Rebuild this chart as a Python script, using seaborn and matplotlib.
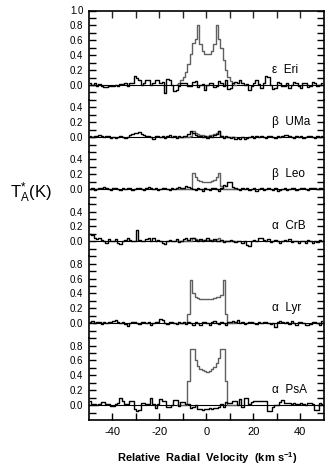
import numpy as np
import matplotlib
matplotlib.use("Agg")
import matplotlib.pyplot as plt
import seaborn as sns

# ---------------- data ----------------
stars = ["ε  Eri", "β  UMa", "β  Leo", "α  CrB", "α  Lyr", "α  PsA"]
y_tops = [1.0, 0.5, 0.5, 0.5, 0.9, 0.9]
y_bottom = -0.2
xtick_values = [-40, -30, -20, -10, 0, 10, 20, 30, 40]
xtick_labels = ["-40", "", "-20", "", "0", "", "20", "", "40"]

noise_v = np.arange(-49.5, 50, 1.0)     # channel centres, km/s
profile_v = np.arange(-12.5, 13, 1.0)   # channel centres of model profiles

eps_eri_noise = [0.03, 0.00, 0.02, -0.01, 0.01, -0.02, -0.03, -0.03, -0.02, -0.02,
                 -0.01, 0.00, -0.02, 0.01, 0.01, 0.02, -0.01, 0.03, 0.02, 0.12,
                 0.10, 0.06, 0.00, 0.03, 0.07, 0.07, 0.00, 0.02, 0.07, 0.07,
                 0.02, 0.04, -0.11, 0.08, 0.07, 0.00, -0.08, -0.07, -0.02, 0.02,
                 0.03, 0.02, -0.01, -0.02, 0.04, 0.05, -0.03, 0.00, 0.01, -0.07,
                 0.00, 0.02, 0.03, -0.03, -0.02, 0.05, 0.02, -0.02, 0.06, -0.05,
                 -0.04, 0.02, 0.04, 0.03, 0.07, 0.03, 0.00, 0.01, -0.07, -0.02,
                 0.03, 0.06, 0.01, -0.04, 0.02, 0.12, 0.11, 0.00, -0.06, -0.04,
                 0.04, 0.02, -0.02, -0.02, 0.03, -0.04, 0.00, 0.04, 0.02, -0.01,
                 -0.04, 0.02, 0.03, -0.03, -0.01, 0.04, 0.02, -0.02, 0.00, 0.03]
beta_uma_noise = [0.01, 0.00, 0.02, 0.01, 0.03, 0.02, 0.00, 0.02, 0.01, -0.01,
                  0.00, -0.01, 0.00, 0.01, 0.00, -0.01, 0.00, 0.03, 0.04, 0.06,
                  0.05, 0.07, 0.04, 0.03, 0.01, 0.02, 0.00, -0.02, 0.01, 0.02,
                  0.00, 0.02, -0.01, 0.01, 0.03, 0.00, 0.01, -0.01, 0.02, 0.00,
                  0.01, 0.02, 0.04, 0.08, 0.06, 0.03, 0.01, 0.02, 0.00, 0.01,
                  -0.01, 0.02, 0.00, 0.03, 0.04, 0.08, 0.02, -0.01, 0.01, 0.00,
                  -0.01, 0.00, -0.02, -0.01, -0.02, 0.00, -0.03, -0.01, 0.00, 0.01,
                  -0.01, 0.01, 0.00, 0.02, 0.00, -0.01, 0.01, 0.02, 0.00, -0.01,
                  0.01, 0.00, 0.02, 0.03, 0.03, 0.01, 0.00, -0.01, 0.01, 0.00,
                  0.01, -0.01, 0.00, 0.01, 0.02, 0.00, -0.01, 0.01, 0.00, 0.01]
beta_leo_noise = [0.00, 0.01, -0.01, 0.00, 0.02, 0.01, 0.03, 0.02, 0.00, -0.01,
                  0.01, 0.02, 0.00, -0.01, 0.01, 0.00, 0.02, 0.01, -0.01, 0.00,
                  0.01, 0.02, 0.00, -0.01, 0.01, 0.03, 0.02, 0.00, 0.01, -0.01,
                  0.00, 0.01, 0.02, 0.00, -0.01, 0.01, 0.00, 0.02, 0.03, 0.01,
                  0.02, 0.04, 0.03, 0.01, 0.00, -0.01, 0.01, 0.00, -0.02, 0.01,
                  0.00, -0.01, 0.01, 0.02, 0.00, -0.02, 0.01, 0.05, 0.04, 0.09,
                  0.10, 0.03, 0.01, 0.00, -0.01, 0.01, 0.00, 0.02, -0.01, 0.00,
                  0.01, -0.02, 0.00, 0.01, -0.01, 0.00, 0.02, 0.00, -0.01, 0.01,
                  -0.02, -0.01, 0.00, 0.01, -0.01, 0.00, 0.02, 0.01, -0.01, 0.00,
                  0.01, 0.02, 0.00, -0.01, 0.01, 0.02, 0.01, 0.00, 0.02, 0.01]
alpha_crb_noise = [0.10, 0.09, 0.04, 0.03, 0.05, 0.02, 0.00, -0.02, 0.03, 0.01,
                   0.00, 0.03, -0.02, -0.03, 0.01, 0.02, 0.04, 0.02, 0.00, 0.01,
                   0.15, 0.02, 0.01, 0.00, 0.03, 0.05, 0.01, 0.04, 0.00, 0.02,
                   0.00, -0.02, -0.04, 0.00, 0.02, 0.01, 0.00, 0.03, -0.01, 0.01,
                   0.03, 0.04, 0.02, 0.05, 0.04, 0.02, 0.00, 0.03, 0.01, 0.02,
                   0.04, 0.02, 0.00, 0.03, 0.01, 0.00, 0.02, -0.01, 0.01, 0.00,
                   0.02, 0.00, -0.01, 0.01, 0.00, -0.02, 0.01, -0.05, -0.06, 0.00,
                   0.02, 0.01, 0.04, 0.05, 0.02, 0.00, 0.03, -0.01, 0.01, 0.02,
                   0.00, -0.02, 0.01, 0.02, 0.00, 0.03, -0.01, 0.01, 0.00, -0.02,
                   0.01, 0.00, -0.02, 0.02, 0.01, -0.02, 0.00, -0.01, 0.02, 0.01]
alpha_lyr_noise = [0.01, 0.03, 0.00, 0.02, 0.01, -0.01, 0.01, 0.00, 0.02, 0.01,
                   0.03, 0.04, 0.02, 0.00, 0.01, -0.01, -0.04, 0.00, 0.02, 0.01,
                   0.00, -0.01, 0.01, 0.02, 0.00, 0.01, -0.02, 0.00, 0.01, 0.02,
                   0.05, 0.04, 0.00, -0.01, 0.01, 0.02, 0.00, -0.01, 0.01, 0.00,
                   0.01, -0.01, 0.02, 0.00, -0.02, 0.01, 0.00, -0.03, 0.01, 0.02,
                   0.00, -0.02, 0.01, 0.03, 0.00, -0.01, 0.02, 0.00, -0.03, 0.02,
                   0.01, 0.03, 0.02, 0.04, 0.00, 0.01, -0.01, 0.00, 0.02, 0.01,
                   0.00, -0.01, 0.01, 0.00, 0.02, 0.01, 0.00, -0.01, 0.00, -0.05,
                   0.01, 0.03, 0.02, 0.00, 0.02, -0.01, 0.03, 0.00, -0.02, 0.01,
                   0.02, 0.00, -0.02, -0.03, -0.01, 0.01, 0.02, 0.00, -0.02, 0.03]
alpha_psa_noise = [0.06, 0.02, 0.02, 0.00, 0.01, 0.04, 0.04, 0.02, 0.02, -0.01,
                   -0.01, 0.01, 0.03, 0.10, 0.05, 0.02, 0.02, 0.05, 0.05, -0.05,
                   -0.08, -0.06, 0.03, 0.03, 0.02, 0.02, 0.10, 0.02, -0.04, 0.02,
                   0.08, 0.05, 0.05, -0.02, -0.02, 0.00, 0.07, 0.07, -0.01, 0.04,
                   0.04, 0.02, 0.02, -0.04, -0.03, 0.00, -0.05, -0.05, -0.06, -0.05,
                   -0.05, -0.04, -0.05, -0.04, -0.04, -0.03, 0.02, -0.03, 0.04, 0.03,
                   0.03, 0.06, 0.06, 0.00, 0.08, -0.02, 0.10, 0.10, 0.02, 0.04,
                   0.06, 0.06, 0.06, 0.06, 0.05, 0.06, -0.08, -0.08, -0.03, 0.00,
                   0.00, 0.04, 0.07, 0.03, 0.03, 0.03, 0.02, 0.03, 0.02, 0.02,
                   0.03, 0.02, 0.00, 0.03, 0.03, 0.02, -0.06, -0.06, 0.03, 0.02]

eps_eri_profile = [0.01, 0.03, 0.06, 0.11, 0.18, 0.28, 0.42, 0.56, 0.62, 0.80,
                   0.55, 0.46, 0.42, 0.41, 0.42, 0.46, 0.55, 0.80, 0.62, 0.50,
                   0.34, 0.20, 0.11, 0.05, 0.02, 0.00]
beta_uma_profile = [0, 0, 0, 0, 0, 0, 0.02, 0.08, 0.05, 0.04,
                    0.03, 0.03, 0.02, 0.02, 0.03, 0.03, 0.04, 0.05, 0.08, 0.02,
                    0, 0, 0, 0, 0, 0]
beta_leo_profile = [0, 0, 0, 0, 0, 0, 0, 0.22, 0.16, 0.13,
                    0.11, 0.10, 0.09, 0.09, 0.10, 0.11, 0.13, 0.16, 0.22, 0.04,
                    0, 0, 0, 0, 0, 0]
alpha_crb_profile = [0, 0, 0, 0, 0, 0, 0, 0.04, 0.03, 0.02,
                     0.02, 0.02, 0.02, 0.02, 0.02, 0.02, 0.02, 0.03, 0.04, 0,
                     0, 0, 0, 0, 0, 0]
alpha_lyr_profile = [0, 0, 0, 0, 0, 0.12, 0.58, 0.40, 0.35, 0.34,
                     0.33, 0.33, 0.32, 0.32, 0.33, 0.33, 0.34, 0.35, 0.35, 0.38,
                     0.58, 0.12, 0, 0, 0, 0]
alpha_psa_profile = [0, 0, 0, 0, 0, 0.33, 0.75, 0.75, 0.60, 0.53,
                     0.49, 0.47, 0.46, 0.45, 0.46, 0.48, 0.51, 0.56, 0.63, 0.75,
                     0.75, 0.33, 0, 0, 0, 0]

noises = [eps_eri_noise, beta_uma_noise, beta_leo_noise,
          alpha_crb_noise, alpha_lyr_noise, alpha_psa_noise]
profiles = [eps_eri_profile, beta_uma_profile, beta_leo_profile,
            alpha_crb_profile, alpha_lyr_profile, alpha_psa_profile]

# ---------------- figure ----------------
sns.set_theme(style="white")
plt.rcParams['font.family'] = ['Liberation Sans', 'DejaVu Sans']
plt.rcParams['mathtext.fontset'] = 'custom'
plt.rcParams['mathtext.rm'] = 'Liberation Sans'
plt.rcParams['mathtext.it'] = 'Liberation Sans'
plt.rcParams['mathtext.bf'] = 'Liberation Sans:bold'

fig = plt.figure(figsize=(3.25, 4.68), dpi=100)
gs = fig.add_gridspec(6, 1, height_ratios=[t - y_bottom for t in y_tops],
                      hspace=0, left=89/325, right=323.5/325,
                      top=1 - 10.5/468, bottom=1 - 420/468)

n = len(stars)
for i in range(n):
    ax = fig.add_subplot(gs[i])
    top = y_tops[i]
    ax.axhline(0, color='black', lw=0.8, zorder=1)
    sns.lineplot(x=profile_v, y=profiles[i], ax=ax, drawstyle='steps-mid',
                 color='#606060', linewidth=1.0, estimator=None, legend=False,
                 zorder=2)
    sns.lineplot(x=noise_v, y=noises[i], ax=ax, drawstyle='steps-mid',
                 color='black', linewidth=1.0, estimator=None, legend=False,
                 zorder=3)
    ax.set_xlim(-50, 50)
    ax.set_ylim(y_bottom, top)
    ax.set_xlabel('')
    ax.set_ylabel('')
    ax.set_facecolor('white')
    for s in ['left', 'right']:
        ax.spines[s].set_visible(True)
        ax.spines[s].set_color('black')
        ax.spines[s].set_linewidth(1.2)
    ax.spines['top'].set_visible(i == 0)
    ax.spines['bottom'].set_visible(i == n - 1)
    for s in ['top', 'bottom']:
        ax.spines[s].set_color('black')
        ax.spines[s].set_linewidth(1.2)

    yt = [round(v, 1) for v in np.arange(-0.1, top + 0.001, 0.1)]
    ax.set_yticks(yt)
    ax.set_yticklabels([f"{v:.1f}" if (v >= 0 and round(v * 10) % 2 == 0) else ""
                        for v in yt])
    ax.tick_params(axis='y', which='major', direction='in', left=True, right=True,
                   length=5, width=1.0, labelsize=7, pad=4, colors='black')

    ax.set_xticks(xtick_values)
    if i == n - 1:
        ax.set_xticklabels(xtick_labels)
        ax.tick_params(axis='x', direction='in', bottom=True, top=False,
                       length=5, width=1.0, labelsize=8, pad=5, colors='black')
    elif i == 0:
        ax.set_xticklabels([])
        ax.tick_params(axis='x', direction='in', bottom=False, top=True,
                       length=5, width=1.0, labelbottom=False)
    else:
        ax.tick_params(axis='x', bottom=False, top=False, labelbottom=False)

    ax.text(28, 0.2, stars[i], fontsize=8.5, ha='left', va='center', color='black')

fig.text(10/325, 1 - 193/468, r"T$_{A}^{*}$(K)", fontsize=12, ha='left',
         va='center', color='black')
fig.text(207/325, 1 - 458/468, r"Relative  Radial  Velocity  (km s$^{\mathbf{-1}}$)",
         fontsize=8, weight='bold', ha='center', va='center', color='black')

fig.savefig("out.png", dpi=100, facecolor='white')
